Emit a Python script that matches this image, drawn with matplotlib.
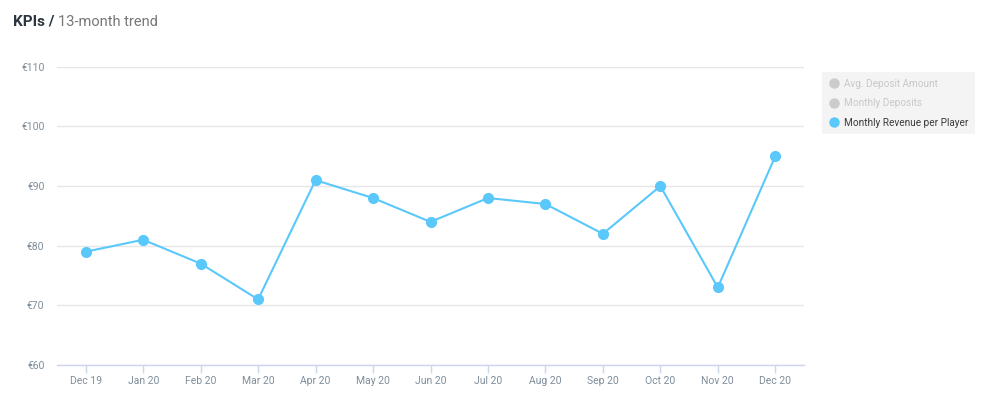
import matplotlib.pyplot as plt
from matplotlib.lines import Line2D

plt.rcParams['font.family'] = ['Roboto', 'DejaVu Sans']

# Data
months = ['Dec 19', 'Jan 20', 'Feb 20', 'Mar 20', 'Apr 20', 'May 20', 'Jun 20',
          'Jul 20', 'Aug 20', 'Sep 20', 'Oct 20', 'Nov 20', 'Dec 20']
revenue_per_player = [79, 81, 77, 71, 91, 88, 84, 88, 87, 82, 90, 73, 95]
y_ticks = [60, 70, 80, 90, 100, 110]
legend_labels = ['Avg. Deposit Amount', 'Monthly Deposits', 'Monthly Revenue per Player']

line_color = '#5ac8fa'
tick_color = '#7f8d9a'

fig = plt.figure(figsize=(10, 3.98), dpi=100)
ax = fig.add_axes([0.057, 0.083, 0.747, 0.749])

x = range(len(months))
ax.plot(x, revenue_per_player, color=line_color, linewidth=1.5,
        marker='o', markersize=7, zorder=3)

ax.set_xlim(-0.5, len(months) - 0.5)
ax.set_ylim(60, 110)
ax.set_yticks(y_ticks)
ax.set_yticklabels([f'€{v}' for v in y_ticks])
ax.set_xticks(list(x))
ax.set_xticklabels(months)

ax.grid(axis='y', color='#e6e6e6', linewidth=1)
ax.set_axisbelow(True)
for side in ['top', 'right', 'left']:
    ax.spines[side].set_visible(False)
ax.spines['bottom'].set_color('#ccd6eb')
ax.spines['bottom'].set_linewidth(1)

ax.tick_params(axis='y', length=0, pad=9, labelsize=7.5, labelcolor=tick_color)
ax.tick_params(axis='x', length=6, width=1, color='#ccd6eb', pad=2,
               labelsize=7.5, labelcolor=tick_color)

# Legend
handles = [
    Line2D([], [], linestyle='none', marker='o', markersize=6.5, color='#cccccc'),
    Line2D([], [], linestyle='none', marker='o', markersize=6.5, color='#cccccc'),
    Line2D([], [], linestyle='none', marker='o', markersize=6.5, color=line_color),
]
leg = fig.legend(handles, legend_labels, loc='upper left',
                 bbox_to_anchor=(0.822, 0.819), frameon=True, fontsize=7.2,
                 handletextpad=0.6, labelspacing=0.95, borderpad=0.65,
                 handlelength=1.0, borderaxespad=0)
leg.get_frame().set_facecolor('#f2f2f2')
leg.get_frame().set_edgecolor('none')
leg.get_frame().set_boxstyle('square', pad=0)
for txt, c in zip(leg.get_texts(), ['#c8c8c8', '#c8c8c8', '#3a3a3a']):
    txt.set_color(c)

# Title
t1 = fig.text(0.013, 0.945, 'KPIs /', fontsize=11, fontweight='bold',
              color='#2b3640', va='center')
fig.canvas.draw()
bb = t1.get_window_extent()
fig.text(bb.x1 / fig.bbox.width + 0.003, 0.945, '13-month trend', fontsize=10.5,
         color='#777777', va='center')

fig.savefig('out.png', dpi=100)
